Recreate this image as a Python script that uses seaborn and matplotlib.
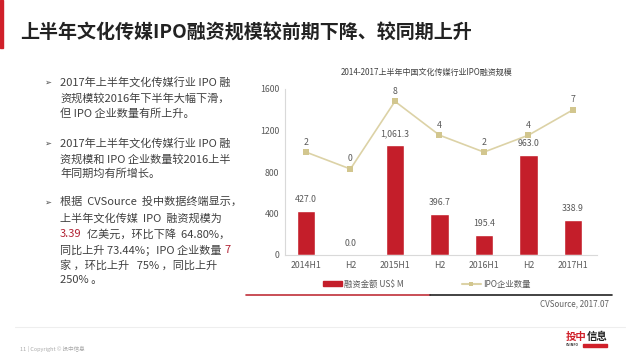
import matplotlib
matplotlib.use("Agg")
import matplotlib.pyplot as plt
import matplotlib.lines as mlines
import matplotlib.patches as mpatches
import pandas as pd
import seaborn as sns

periods = ["2014H1", "2014H2", "2015H1", "2015H2", "2016H1", "2016H2", "2017H1"]
tick_labels = ["2014H1", "H2", "2015H1", "H2", "2016H1", "H2", "2017H1"]
amounts = [427.0, 0.0, 1061.3, 396.7, 195.4, 963.0, 338.9]
ipo_counts = [2, 0, 8, 4, 2, 4, 7]

title = "上半年文化传媒IPO融资规模较前期下降、较同期上升"
chart_title = "2014-2017上半年中国文化传媒行业IPO融资规模"
bar_name = "融资金额 US$ M"
line_name = "IPO企业数量"
source = "CVSource, 2017.07"

# bullet paragraphs, each line a list of (text, colour) segments
bullets = [
    [[("2017年上半年文化传媒行业 IPO 融", None)],
     [("资规模较2016年下半年大幅下滑，", None)],
     [("但 IPO 企业数量有所上升。", None)]],
    [[("2017年上半年文化传媒行业 IPO 融", None)],
     [("资规模和 IPO 企业数量较2016上半", None)],
     [("年同期均有所增长。", None)]],
    [[("根据  CVSource  投中数据终端显示，", None)],
     [("上半年文化传媒  IPO  融资规模为", None)],
     [("3.39", "red"), ("  亿美元，环比下降  64.80%，", None)],
     [("同比上升 73.44%；IPO 企业数量 ", None), ("7", "red")],
     [("家 ，环比上升   75% ，同比上升", None)],
     [("250% 。", None)]],
]

sns.set_theme(style="white")
plt.rcParams["font.family"] = ["Noto Sans CJK SC", "DejaVu Sans"]

RED = "#C41E2A"
TAN = "#DCD2A6"
GREY = "#595959"

df = pd.DataFrame({"period": periods, "amount": amounts, "count": ipo_counts})

fig = plt.figure(figsize=(6.4, 3.6), dpi=100)
fig.patch.set_facecolor("white")
W, H = 640, 360


def fx(px):
    return px / W


def fy(py):
    return 1 - py / H


# headline
fig.patches.append(mpatches.Rectangle((0, fy(48)), fx(3), 48 / H, transform=fig.transFigure,
                                      color="#D0202A", zorder=5))
fig.text(fx(20), fy(33), title, fontsize=13.7, fontweight="bold", color="#222222", va="center")

# bullet text
renderer = fig.canvas.get_renderer()
ys = [[82, 98, 114], [143, 159, 174], [202, 218, 234, 250, 265, 280]]
for para, yrow in zip(bullets, ys):
    fig.text(fx(44), fy(yrow[0]), "➢", fontsize=6, color="#444444", va="center",
             family=["DejaVu Sans"])
    for line, y in zip(para, yrow):
        x = fx(60)
        for seg, col in line:
            t = fig.text(x, fy(y), seg, fontsize=8, va="center",
                         color="#B22234" if col else "#404040")
            bb = t.get_window_extent(renderer=renderer)
            x += bb.width / fig.bbox.width

# main chart
ax = fig.add_axes([fx(285), fy(255), fx(597) - fx(285), (255 - 89) / H])
sns.barplot(data=df, x="period", y="amount", color=RED, width=0.42, ax=ax,
            saturation=1, zorder=2)
ax.set_ylim(0, 1600)
ax.set_yticks([0, 400, 800, 1200, 1600])
ax.set_xlim(-0.47, 6.54)
ax.set_xticks(range(len(periods)))
ax.set_xticklabels(tick_labels)
ax.tick_params(axis="both", labelsize=6.3, colors=GREY, length=0, pad=4)
ax.set_xlabel("")
ax.set_ylabel("")
for side in ["top", "right"]:
    ax.spines[side].set_visible(False)
for side in ["left", "bottom"]:
    ax.spines[side].set_color("#D9D9D9")
    ax.spines[side].set_linewidth(0.8)
ax.bar_label(ax.containers[0], labels=[f"{v:,.1f}" for v in amounts], padding=5,
             fontsize=6.3, color=GREY)

ax2 = ax.twinx()
sns.lineplot(data=df, x="period", y="count", ax=ax2, color=TAN, linewidth=1.2,
             marker="s", markersize=4, markerfacecolor="#D2C68E", markeredgewidth=0,
             sort=False)
ax2.set_ylim(-10.17, 9.46)
ax2.set_xlim(-0.47, 6.54)
ax2.axis("off")
for i, c in enumerate(ipo_counts):
    ax2.annotate(str(c), (i, c), xytext=(0, 4), textcoords="offset points",
                 ha="center", va="bottom", fontsize=6.3, color=GREY)

fig.text(fx(427), fy(72), chart_title, fontsize=5.8, color="#404040", ha="center", va="center")

# legend
handles = [mpatches.Patch(color=RED, label=bar_name),
           mlines.Line2D([], [], color=TAN, marker="s", markersize=3,
                         markerfacecolor="#D2C68E", markeredgewidth=0, label=line_name)]
fig.legend(handles=handles, loc="center", bbox_to_anchor=(fx(427), fy(284)), ncol=2,
           frameon=False, fontsize=6, columnspacing=7, handlelength=2.2, handleheight=0.5,
           handletextpad=0.3, labelcolor=GREY)

# separator lines and source
fig.add_artist(mlines.Line2D([fx(246), fx(430)], [fy(295), fy(295)], color="#C0303A", lw=1.2))
fig.add_artist(mlines.Line2D([fx(430), fx(612)], [fy(295), fy(295)], color="#222222", lw=1.2))
fig.text(fx(609), fy(304), source, fontsize=5.8, color="#606060", ha="right", va="center")

# footer
fig.add_artist(mlines.Line2D([fx(15), fx(625)], [fy(327), fy(327)], color="#EEEEEE", lw=0.8))
fig.text(fx(20), fy(349), "11 | Copyright © 投中信息", fontsize=4, color="#AAAAAA", va="center")
fig.text(fx(566), fy(337), "投中", fontsize=7.5, fontweight="bold", color="#D0202A", va="center")
fig.text(fx(587), fy(337), "信息", fontsize=7.5, fontweight="bold", color="#222222", va="center")
fig.text(fx(566), fy(345), "CVINFO", fontsize=2.5, fontweight="bold", color="#333333", va="center")
fig.patches.append(mpatches.Rectangle((fx(583), fy(346.5)), fx(24), 2.5 / H,
                                      transform=fig.transFigure, color="#D0202A"))

fig.savefig("out.png", dpi=100, facecolor="white")
